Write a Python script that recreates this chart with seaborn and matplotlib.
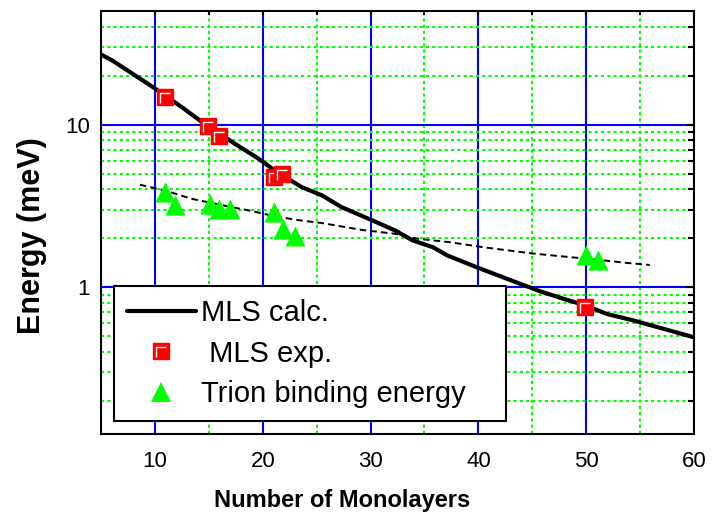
import matplotlib
matplotlib.use("Agg")
import matplotlib.pyplot as plt
from matplotlib.lines import Line2D
from matplotlib.path import Path
from matplotlib.legend_handler import HandlerTuple
from matplotlib.ticker import NullFormatter
import seaborn as sns

# Calculated MLS energy vs. well width
calc_n = [5.0, 6.0, 7.2, 10.0, 12.5, 14.6, 17.4, 19.6, 21.1, 23.6, 25.5, 27.3, 29.8,
          32.3, 33.9, 35.8, 37.1, 39.8, 42.6, 45.7, 48.2, 50.0, 51.9, 54.4, 57.2, 60.0]
calc_e = [27.0, 24.9, 22.1, 16.7, 12.8, 10.1, 7.64, 6.18, 5.23, 4.13, 3.67, 3.11, 2.64,
          2.23, 1.94, 1.76, 1.57, 1.33, 1.13, 0.945, 0.836, 0.771, 0.685, 0.624, 0.554, 0.492]

# Measured MLS splitting
exp_n = [10.9, 14.9, 15.9, 21.0, 21.8, 49.9]
exp_e = [14.8, 9.8, 8.5, 4.76, 4.94, 0.76]

# Trion binding energies
trion_n = [10.9, 11.9, 15.1, 15.9, 17.0, 21.0, 21.9, 23.0, 50.0, 51.1]
trion_e = [3.85, 3.19, 3.26, 3.04, 3.04, 2.90, 2.29, 2.08, 1.57, 1.46]

# Guide to the eye through the trion data
fit_n = [8.6, 10.9, 13.4, 15.3, 17.4, 18.7, 21.1, 23.6, 25.5, 29.2, 32.3, 34.3,
         37.4, 40.5, 45.1, 51.3, 53.8, 55.9]
fit_e = [4.27, 3.94, 3.50, 3.29, 3.08, 2.97, 2.73, 2.57, 2.48, 2.25, 2.13, 1.99,
         1.89, 1.76, 1.61, 1.47, 1.41, 1.37]

x_major = [10, 20, 30, 40, 50, 60]
x_minor = [15, 25, 35, 45, 55]
y_major = [1, 10]
y_major_labels = ["1", "10"]
y_minor = [0.2, 0.3, 0.4, 0.5, 0.6, 0.7, 0.8, 0.9,
           2, 3, 4, 5, 6, 7, 8, 9, 20, 30, 40]

labels = ["MLS calc.", " MLS exp.", "Trion binding energy"]

sns.set_theme(style="white")
plt.rcParams["font.family"] = ["Liberation Sans", "DejaVu Sans"]
plt.rcParams.update({"text.color": "black", "axes.labelcolor": "black",
                     "xtick.color": "black", "ytick.color": "black"})

GREEN = "#00ff00"
RED = "#ff0000"

fig = plt.figure(figsize=(7.27, 5.17), dpi=100)
ax = fig.add_axes([0.139, 0.1605, 0.8156, 0.8182])
ax.set_yscale("log")

# highlight stroke drawn inside each square marker
hl_marker = Path([(-0.6, -0.75), (-0.6, 0.5), (0.65, 0.5)],
                 [Path.MOVETO, Path.LINETO, Path.LINETO])
SQ = 11

sns.lineplot(x=calc_n, y=calc_e, ax=ax, color="black", lw=3, sort=False,
             estimator=None, zorder=3)
sns.lineplot(x=fit_n, y=fit_e, ax=ax, color="black", lw=1.4, sort=False,
             estimator=None, dashes=False, zorder=3).lines[-1].set_dashes((3.4, 2.1))
sns.scatterplot(x=trion_n, y=trion_e, ax=ax, marker="^", s=210, color=GREEN,
                linewidth=0, zorder=4)
for i, (n, e) in enumerate(zip(exp_n, exp_e)):
    ax.plot([n], [e], ls="none", marker="s", ms=SQ, mfc=RED, mec=RED, mew=1,
            zorder=5 + 2 * i)
    ax.plot([n], [e], ls="none", marker=hl_marker, ms=SQ * 0.75, mfc="none",
            mec="white", mew=1, zorder=6 + 2 * i)

ax.set_xlim(5, 60)
ax.set_ylim(0.125, 50)

ax.set_xticks(x_major)
ax.set_xticks(x_minor, minor=True)
ax.set_yticks(y_major, labels=y_major_labels)
ax.set_yticks(y_minor, minor=True)
ax.yaxis.set_minor_formatter(NullFormatter())

ax.set_axisbelow(True)
ax.grid(which="major", color="blue", lw=1.5, ls="-")
ax.grid(which="minor", color=GREEN, lw=1.5, ls=(0, (1.5, 1.5)))

ax.tick_params(which="both", direction="in", top=True, right=True, color="black",
               width=1.5, labelsize=16)
ax.tick_params(which="major", length=6)
ax.tick_params(which="minor", length=4.5)
ax.tick_params(axis="x", which="both", length=3, pad=12)
ax.tick_params(axis="y", which="both", pad=8)
for t in ax.xaxis.get_major_ticks():
    t.tick1line.set_color("blue")
for t in ax.xaxis.get_minor_ticks():
    t.tick1line.set_color(GREEN)

for sp in ax.spines.values():
    sp.set_color("black")
    sp.set_linewidth(1.5)
    sp.set_visible(True)

ax.set_xlabel("Number of Monolayers", fontsize=17, fontweight="bold")
ax.set_ylabel("Energy (meV)", fontsize=22, fontweight="bold")
ax.xaxis.set_label_coords(0.407, -0.13)
ax.yaxis.set_label_coords(-0.091, 0.468)

h_calc = Line2D([], [], color="black", lw=3)
h_exp = (Line2D([], [], ls="none", marker="s", ms=SQ, mfc=RED, mec=RED, mew=1),
         Line2D([], [], ls="none", marker=hl_marker, ms=SQ * 0.75, mfc="none",
                mec="white", mew=1))
h_trion = Line2D([], [], ls="none", marker="^", ms=14.5, color=GREEN, mew=0)

leg = ax.legend([h_calc, h_exp, h_trion], labels,
                handler_map={tuple: HandlerTuple(ndivide=1, pad=0)},
                loc="lower left", bbox_to_anchor=(0.0218, 0.0307, 0.661, 0.3),
                mode="expand", borderaxespad=0, fontsize=21, numpoints=1,
                handlelength=2.35, handletextpad=0.2, labelspacing=0.42,
                borderpad=0.45, fancybox=False, framealpha=1, edgecolor="black")
leg.get_frame().set_linewidth(1.5)
leg.set_zorder(20)

fig.savefig("out.png", dpi=100, facecolor="white")
